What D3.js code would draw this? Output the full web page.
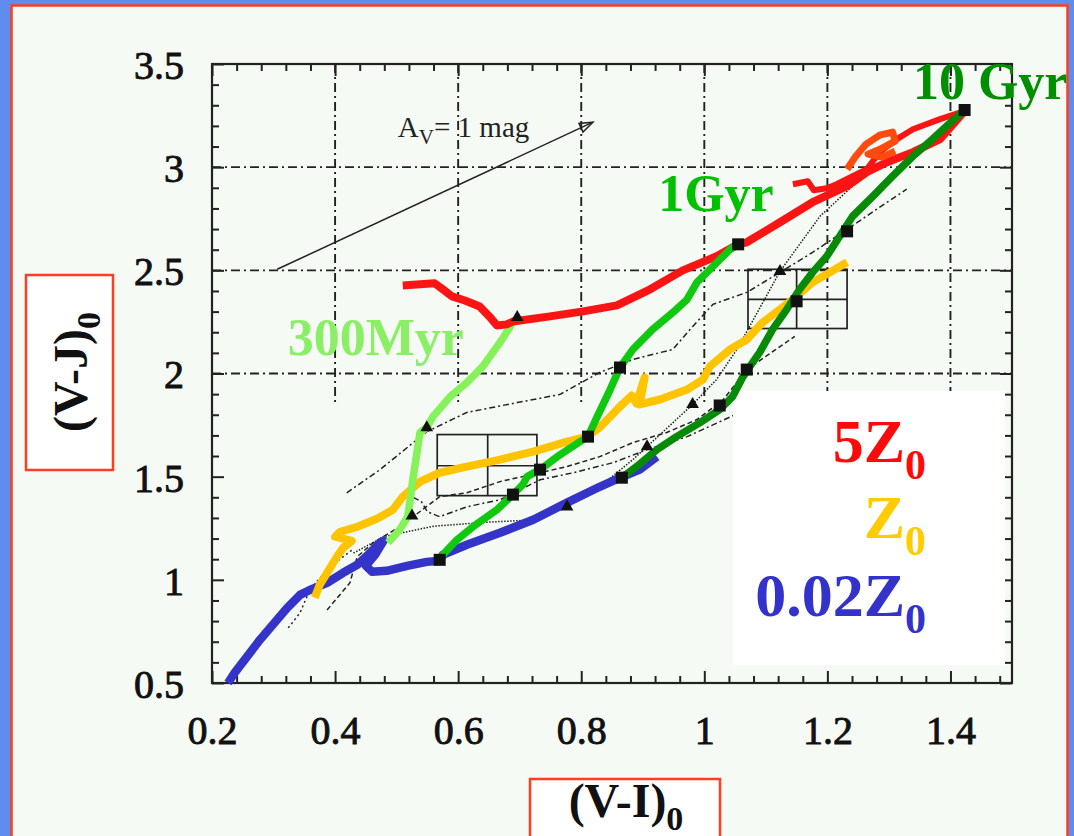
<!DOCTYPE html>
<html><head><meta charset="utf-8">
<script src="https://cdn.jsdelivr.net/npm/d3@7"></script>
<style>html,body{margin:0;padding:0;background:#5e8ded;} svg{display:block;}</style>
</head><body>
<svg id="chart" width="1074" height="836"></svg>
<script>
// ---- axis ticks ----
const xTicks = [0.2, 0.4, 0.6, 0.8, 1, 1.2, 1.4];
const xTickLabels = ["0.2", "0.4", "0.6", "0.8", "1", "1.2", "1.4"];
const yTicks = [0.5, 1, 1.5, 2, 2.5, 3, 3.5];
const yTickLabels = ["0.5", "1", "1.5", "2", "2.5", "3", "3.5"];
const xGrid = [0.4, 0.6, 0.8, 1, 1.2, 1.4];
const yGrid = [2, 2.5, 3];

// ---- model tracks, (V-I)0 vs (V-J)0 ----
const track002Z = [[0.226,0.50],[0.237,0.55],[0.278,0.71],[0.322,0.864],[0.343,0.927],[0.359,0.951],[0.387,0.985],[0.413,1.034],[0.436,1.073],[0.457,1.131],[0.473,1.18],[0.479,1.19],[0.465,1.121],[0.450,1.068],[0.460,1.039],[0.484,1.044],[0.517,1.068],[0.549,1.087],[0.570,1.092],[0.575,1.121],[0.614,1.170],[0.668,1.228],[0.722,1.291],[0.777,1.374],[0.830,1.451],[0.863,1.495],[0.895,1.534],[0.923,1.597]];
const trackZ = [[0.367,0.913],[0.375,0.976],[0.387,1.034],[0.403,1.112],[0.413,1.155],[0.427,1.189],[0.400,1.209],[0.408,1.233],[0.436,1.257],[0.468,1.296],[0.494,1.340],[0.510,1.403],[0.538,1.476],[0.570,1.519],[0.614,1.549],[0.668,1.583],[0.722,1.621],[0.777,1.670],[0.809,1.694],[0.830,1.738],[0.863,1.840],[0.882,1.893],[0.890,1.854],[0.903,1.981],[0.895,1.850],[0.928,1.874],[0.972,1.922],[0.998,1.971],[1.009,2.034],[1.042,2.117],[1.069,2.165],[1.095,2.248],[1.123,2.311],[1.150,2.374],[1.176,2.442],[1.204,2.490],[1.232,2.539]];
const track5Z = [[0.510,2.427],[0.538,2.432],[0.562,2.437],[0.575,2.408],[0.590,2.374],[0.611,2.354],[0.635,2.325],[0.652,2.272],[0.663,2.233],[0.679,2.238],[0.689,2.252],[0.749,2.277],[0.803,2.301],[0.858,2.330],[0.912,2.408],[0.965,2.500],[1.020,2.568],[1.055,2.626],[1.069,2.636],[1.123,2.733],[1.176,2.830],[1.232,2.908],[1.264,2.976],[1.297,3.024],[1.339,3.073],[1.383,3.136],[1.423,3.272]];
const track5ZReturn = [[1.423,3.272],[1.383,3.233],[1.339,3.184],[1.313,3.136],[1.285,3.073],[1.264,2.990],[1.241,2.956],[1.215,2.917],[1.199,2.898],[1.178,2.888],[1.168,2.932],[1.144,2.917]];
const track5ZLoop = [[1.232,2.990],[1.245,3.049],[1.263,3.112],[1.285,3.155],[1.306,3.170],[1.310,3.126],[1.289,3.092],[1.266,3.063],[1.289,3.049],[1.310,3.078]];
const iso300Myr = [[0.486,1.180],[0.505,1.243],[0.518,1.306],[0.522,1.388],[0.527,1.500],[0.538,1.714],[0.549,1.738],[0.559,1.791],[0.587,1.888],[0.614,1.956],[0.640,2.034],[0.668,2.150],[0.689,2.248]];
const iso1Gyr = [[0.570,1.097],[0.575,1.121],[0.598,1.194],[0.624,1.257],[0.663,1.340],[0.689,1.413],[0.705,1.461],[0.712,1.500],[0.733,1.534],[0.761,1.597],[0.798,1.670],[0.811,1.694],[0.826,1.791],[0.847,1.922],[0.863,2.029],[0.884,2.117],[0.916,2.214],[0.949,2.296],[0.972,2.359],[0.988,2.442],[1.014,2.519],[1.042,2.602],[1.055,2.626]];
const iso10Gyr = [[0.866,1.495],[0.890,1.549],[0.923,1.631],[0.955,1.694],[0.993,1.762],[1.025,1.825],[1.046,1.888],[1.063,1.985],[1.074,2.034],[1.090,2.102],[1.111,2.214],[1.134,2.311],[1.155,2.408],[1.176,2.490],[1.199,2.568],[1.220,2.665],[1.241,2.762],[1.274,2.859],[1.306,2.956],[1.339,3.053],[1.371,3.136],[1.394,3.199],[1.423,3.277]];

// ---- thin black comparison tracks ----
const thinDashDot = [[0.419,1.422],[0.473,1.534],[0.549,1.718],[0.614,1.811],[0.696,1.859],[0.765,1.898],[0.830,2.005],[0.884,2.068],[0.949,2.117],[0.977,2.214],[1.014,2.335],[1.069,2.393],[1.123,2.490],[1.176,2.587],[1.232,2.699],[1.297,2.830],[1.329,2.893]];
const thinDashed = [[0.387,0.854],[0.424,0.985],[0.436,1.112],[0.462,1.180],[0.505,1.257],[0.570,1.403],[0.614,1.422],[0.668,1.476],[0.733,1.519],[0.777,1.549],[0.830,1.597],[0.884,1.665],[0.939,1.714],[0.988,1.777],[1.030,1.870],[1.069,2.019],[1.147,2.180]];
const thinDotted = [[0.324,0.767],[0.343,0.840],[0.359,0.951],[0.390,1.060],[0.430,1.150]];
const thinSolid = [[0.430,1.130],[0.480,1.210],[0.560,1.260],[0.650,1.280],[0.728,1.291],[0.777,1.354],[0.830,1.451],[0.884,1.583],[0.907,1.646],[0.981,1.850],[1.020,1.971],[1.053,2.117],[1.123,2.495],[1.188,2.762],[1.241,2.908]];
const thinDashDot2 = [[0.527,1.400],[0.540,1.380],[0.550,1.330],[0.570,1.306],[0.614,1.354],[0.668,1.388],[0.733,1.485],[0.787,1.519],[0.852,1.568],[0.907,1.631],[0.972,1.694],[1.050,1.800],[1.100,1.880]];

const squareMarks = [[0.570,1.097],[0.689,1.413],[0.733,1.534],[0.811,1.694],[0.863,2.029],[1.055,2.626],[0.866,1.495],[1.423,3.277],[1.232,2.689],[1.069,2.019],[1.025,1.845],[1.150,2.350]];
const triangleMarks = [[0.549,1.738],[0.525,1.310],[0.907,1.646],[0.981,1.850],[1.123,2.495],[0.696,2.272],[0.777,1.354]];

// ---- observed colour boxes: [x0, x1, y0, y1, xmid, ymid] ----
const obsBoxes = [[0.566,0.728,1.408,1.704,0.648,1.553],[1.071,1.232,2.218,2.505,1.150,2.359]];

// ---- reddening vector ----
const avArrow = [[0.306,2.505],[0.819,3.218]];
const avLabelPos = [0.502, 3.146];

// ---- age labels ----
const ageLabels = [
  {text: "300Myr", pos: [0.323, 2.092], color: "#8bef66"},
  {text: "1Gyr", pos: [0.925, 2.786], color: "#00c000"},
  {text: "10 Gyr", pos: [1.339, 3.330], color: "#008f00"}
];
const metalLabels = [
  {main: "5Z", color: "#ff0a0a"},
  {main: "Z", color: "#ffcc00"},
  {main: "0.02Z", color: "#3333cc"}
];

const W = 1074, H = 836;
const SERIF = "'Liberation Serif','Times New Roman',serif";
const svg = d3.select("#chart");

svg.append("rect").attr("width", W).attr("height", H).attr("fill", "#5e8ded");
svg.append("rect").attr("x", 11.5).attr("y", 5.5).attr("width", 1056).attr("height", H)
  .attr("fill", "#f6faf4").attr("stroke", "#ff3d1f").attr("stroke-width", 2.5);

const x = d3.scaleLinear().domain([0.2, 1.5]).range([212, 1012]);
const y = d3.scaleLinear().domain([0.5, 3.5]).range([683, 64]);
const [X0, X1] = x.range();
const [Y0, Y1] = y.range();

// grid (dash-dot)
const grid = svg.append("g").attr("stroke", "#222").attr("stroke-width", 1.9)
  .attr("stroke-dasharray", "9,4,2,4");
grid.selectAll("line.v").data(xGrid).join("line").attr("class", "v")
  .attr("x1", d => x(d)).attr("x2", d => x(d)).attr("y1", y(3.5)).attr("y2", y(1.86));
grid.selectAll("line.h").data(yGrid).join("line").attr("class", "h")
  .attr("x1", X0).attr("x2", X1).attr("y1", d => y(d)).attr("y2", d => y(d));

// axes with inward ticks
const minorX = d3.range(0, 33).map(i => +(0.2 + i * 0.04).toFixed(2)).filter(v => !xTicks.includes(v) && v < 1.5);
const minorY = d3.range(0, 31).map(i => +(0.5 + i * 0.1).toFixed(1)).filter(v => !yTicks.includes(v));

function styleAxis(g) {
  g.select(".domain").remove();
  g.selectAll(".tick line").attr("stroke", "#222").attr("stroke-width", 2);
}
svg.append("g").attr("transform", `translate(0,${Y0})`)
  .call(d3.axisBottom(x).tickValues(xTicks).tickSizeInner(-12).tickSizeOuter(0)
    .tickFormat((d, i) => xTickLabels[i]))
  .call(styleAxis)
  .call(g => g.selectAll(".tick text").attr("y", 61).attr("dy", 0)
    .attr("font-family", SERIF).attr("font-size", 40).attr("fill", "#111")
    .attr("stroke", "#111").attr("stroke-width", 0.9));
svg.append("g").attr("transform", `translate(0,${Y0})`)
  .call(d3.axisBottom(x).tickValues(minorX).tickSizeInner(-7).tickSizeOuter(0).tickFormat(""))
  .call(styleAxis);
svg.append("g").attr("transform", `translate(0,${Y1})`)
  .call(d3.axisTop(x).tickValues(xTicks).tickSizeInner(-12).tickSizeOuter(0).tickFormat(""))
  .call(styleAxis);
svg.append("g").attr("transform", `translate(0,${Y1})`)
  .call(d3.axisTop(x).tickValues(minorX).tickSizeInner(-7).tickSizeOuter(0).tickFormat(""))
  .call(styleAxis);
svg.append("g").attr("transform", `translate(${X0},0)`)
  .call(d3.axisLeft(y).tickValues(yTicks).tickSizeInner(-12).tickSizeOuter(0)
    .tickFormat((d, i) => yTickLabels[i]))
  .call(styleAxis)
  .call(g => g.selectAll(".tick text").attr("x", -28).attr("dy", "0.36em")
    .attr("font-family", SERIF).attr("font-size", 40).attr("fill", "#111")
    .attr("stroke", "#111").attr("stroke-width", 0.9));
svg.append("g").attr("transform", `translate(${X0},0)`)
  .call(d3.axisLeft(y).tickValues(minorY).tickSizeInner(-7).tickSizeOuter(0).tickFormat(""))
  .call(styleAxis);
svg.append("g").attr("transform", `translate(${X1},0)`)
  .call(d3.axisRight(y).tickValues(yTicks).tickSizeInner(-12).tickSizeOuter(0).tickFormat(""))
  .call(styleAxis);
svg.append("g").attr("transform", `translate(${X1},0)`)
  .call(d3.axisRight(y).tickValues(minorY).tickSizeInner(-7).tickSizeOuter(0).tickFormat(""))
  .call(styleAxis);

// frame
svg.append("rect").attr("x", X0).attr("y", Y1).attr("width", X1 - X0).attr("height", Y0 - Y1)
  .attr("fill", "none").attr("stroke", "#222").attr("stroke-width", 2.2);

const line = d3.line().x(d => x(d[0])).y(d => y(d[1]));

// thin comparison tracks
const thin = svg.append("g").attr("fill", "none").attr("stroke", "#222").attr("stroke-width", 1.5);
thin.append("path").attr("d", line(thinDashDot)).attr("stroke-dasharray", "6,3,2,3");
thin.append("path").attr("d", line(thinDashed)).attr("stroke-dasharray", "5,3");
thin.append("path").attr("d", line(thinDotted)).attr("stroke-dasharray", "2,3");
thin.append("path").attr("d", line(thinSolid)).attr("stroke-dasharray", "1.5,1.5");
thin.append("path").attr("d", line(thinDashDot2)).attr("stroke-dasharray", "6,3,2,3");

// observed boxes
const boxG = svg.append("g").attr("fill", "none").attr("stroke", "#222").attr("stroke-width", 1.7);
obsBoxes.forEach(b => {
  boxG.append("rect").attr("x", x(b[0])).attr("y", y(b[3]))
    .attr("width", x(b[1]) - x(b[0])).attr("height", y(b[2]) - y(b[3]));
  boxG.append("line").attr("x1", x(b[4])).attr("x2", x(b[4])).attr("y1", y(b[3])).attr("y2", y(b[2]));
  boxG.append("line").attr("x1", x(b[0])).attr("x2", x(b[1])).attr("y1", y(b[5])).attr("y2", y(b[5]));
});

// reddening arrow
{
  const [p0, p1] = avArrow.map(d => [x(d[0]), y(d[1])]);
  svg.append("line").attr("x1", p0[0]).attr("y1", p0[1]).attr("x2", p1[0]).attr("y2", p1[1])
    .attr("stroke", "#222").attr("stroke-width", 1.5);
  const ang = Math.atan2(p1[1] - p0[1], p1[0] - p0[0]);
  const L = 14, s = 0.35;
  const a = [p1[0] - L * Math.cos(ang - s), p1[1] - L * Math.sin(ang - s)];
  const b = [p1[0] - L * Math.cos(ang + s), p1[1] - L * Math.sin(ang + s)];
  svg.append("path").attr("d", `M${a}L${p1}L${b}Z`).attr("fill", "none")
    .attr("stroke", "#222").attr("stroke-width", 1.5);
  const t = svg.append("text").attr("x", x(avLabelPos[0])).attr("y", y(avLabelPos[1]))
    .attr("font-family", SERIF).attr("font-size", 29).attr("fill", "#222");
  t.append("tspan").text("A");
  t.append("tspan").attr("font-size", 21).attr("dy", 7).text("V");
  t.append("tspan").attr("dy", -7).text("= 1 mag");
}

// legend panel
svg.append("rect").attr("x", 733).attr("y", 391).attr("width", 272).attr("height", 274).attr("fill", "#ffffff");

// coloured tracks
const thick = svg.append("g").attr("fill", "none").attr("stroke-linejoin", "round").attr("stroke-linecap", "butt");
const drawTrack = (data, color, w) => thick.append("path").attr("d", line(data))
  .attr("stroke", color).attr("stroke-width", w);
drawTrack(track002Z, "#3434c8", 8.5);
drawTrack(trackZ, "#ffc400", 8);
drawTrack(iso300Myr, "#86f25a", 7.5);
drawTrack(track5Z, "#fa1414", 8);
drawTrack(track5ZReturn, "#fa1414", 6);
drawTrack(track5ZLoop, "#ff4a10", 7);
drawTrack(iso1Gyr, "#10c810", 7.5);
drawTrack(iso10Gyr, "#078a07", 7.5);

// markers
svg.append("g").selectAll("rect").data(squareMarks).join("rect")
  .attr("x", d => x(d[0]) - 6).attr("y", d => y(d[1]) - 6).attr("width", 12).attr("height", 12)
  .attr("fill", "#111");
svg.append("g").selectAll("path").data(triangleMarks).join("path")
  .attr("d", d3.symbol(d3.symbolTriangle, 70))
  .attr("transform", d => `translate(${x(d[0])},${y(d[1])})`).attr("fill", "#111");

// age labels
svg.append("g").selectAll("text").data(ageLabels).join("text")
  .attr("x", d => x(d.pos[0])).attr("y", d => y(d.pos[1]))
  .attr("font-family", SERIF).attr("font-weight", "bold").attr("font-size", 52)
  .attr("fill", d => d.color).text(d => d.text);

// metallicity legend
const legendBase = [462, 538, 616];
metalLabels.forEach((m, i) => {
  const t = svg.append("text").attr("x", 926).attr("y", legendBase[i]).attr("text-anchor", "end")
    .attr("font-family", SERIF).attr("font-weight", "bold").attr("font-size", 62).attr("fill", m.color);
  t.append("tspan").text(m.main);
  t.append("tspan").attr("font-size", 42).attr("dy", 17).text("0");
});

// axis titles in boxed frames
svg.append("rect").attr("x", 530).attr("y", 779).attr("width", 190).attr("height", 80)
  .attr("fill", "#ffffff").attr("stroke", "#ff3d1f").attr("stroke-width", 2.5);
{
  const t = svg.append("text").attr("x", 626).attr("y", 817).attr("text-anchor", "middle")
    .attr("font-family", SERIF).attr("font-weight", "bold").attr("font-size", 48).attr("fill", "#111");
  t.append("tspan").text("(V-I)");
  t.append("tspan").attr("font-size", 34).attr("dy", 13).text("0");
}
svg.append("rect").attr("x", 26).attr("y", 275).attr("width", 87).attr("height", 195)
  .attr("fill", "#ffffff").attr("stroke", "#ff3d1f").attr("stroke-width", 2.5);
{
  const t = svg.append("text").attr("transform", "translate(87,372) rotate(-90)").attr("text-anchor", "middle")
    .attr("font-family", SERIF).attr("font-weight", "bold").attr("font-size", 48).attr("fill", "#111");
  t.append("tspan").text("(V-J)");
  t.append("tspan").attr("font-size", 34).attr("dy", 13).text("0");
}
</script>
</body></html>
